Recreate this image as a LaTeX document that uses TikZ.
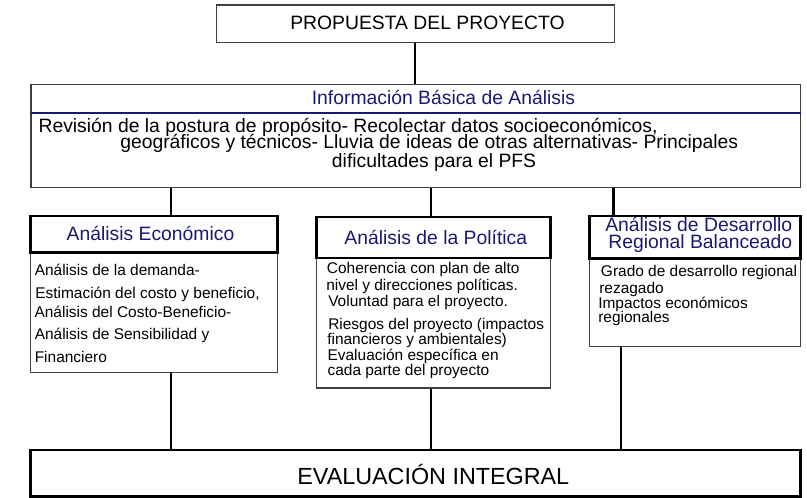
\documentclass[tikz,border=0pt]{standalone}
\usepackage{fontspec}
\setmainfont{Liberation Sans}
\usepackage{graphicx}
\usetikzlibrary{fit}
\definecolor{navy}{RGB}{25,25,115}
\begin{document}
\begin{tikzpicture}[x=0.75pt,y=-0.75pt,
  thinbox/.style={draw=black!75, line width=0.8pt, inner sep=0pt},
  thickbox/.style={draw=black, line width=2pt, inner sep=0pt},
  conn/.style={draw=black, line width=1.8pt},
  big/.style={font=\fontsize{14.5}{15}\selectfont, inner sep=0pt, anchor=base west},
  hdr/.style={font=\fontsize{14.5}{15}\selectfont, text=navy, inner sep=0pt, anchor=base},
  body/.style={font=\fontsize{11.6}{12}\selectfont, inner sep=0pt, anchor=base west},
]
\useasboundingbox (0,0) rectangle (807,498);

% boxes
\node[thinbox, fit={(216.7,5) (614.3,42.7)}] (top) {};
\node[thinbox, fit={(31,84.5) (800.5,187.7)}] (info) {};
\node[thinbox, fit={(30.7,252.7) (277.7,372.7)}] (econB) {};
\node[thickbox, fit={(30.7,216) (277.7,252.7)}] (econH) {};
\node[thinbox, fit={(316.7,258) (550.7,388)}] (polB) {};
\node[thickbox, fit={(316.7,217) (550.7,258)}] (polH) {};
\node[thinbox, fit={(589.3,258.3) (800.7,346.7)}] (desB) {};
\node[thickbox, fit={(589.3,216) (800.7,258.3)}] (desH) {};
\node[thickbox, fit={(30.7,450) (800.5,496.5)}] (final) {};

% divider in info box
\coordinate (dl) at (31,113);
\coordinate (dr) at (800.5,113);
\draw[navy, line width=1.3pt] (dl) -- (dr);

% connectors
\draw[conn] (415,0 |- top.south) -- (415,0 |- info.north);
\draw[conn] (170.7,0 |- info.south) -- (170.7,0 |- econH.north);
\draw[conn] (431,0 |- info.south) -- (431,0 |- polH.north);
\draw[conn] (613.3,0 |- info.south) -- (613.3,0 |- desH.north);
\draw[conn] (170.7,0 |- econB.south) -- (170.7,0 |- final.north);
\draw[conn] (431,0 |- polB.south) -- (431,0 |- final.north);
\draw[conn] (621,0 |- desB.south) -- (621,0 |- final.north);

% texts
\node[big] (ttop) at (290,30) {PROPUESTA DEL PROYECTO};
\node[hdr] (tinfo) at (443.5,105) {Información Básica de Análisis};
\node[big] (i1) at (38.3,132.5) {Revisión de la postura de propósito- Recolectar datos socioeconómicos,};
\node[big] (i2) at (120,148.5) {geográficos y técnicos- Lluvia de ideas de otras alternativas- Principales};
\node[big] (i3) at (331.7,167.5) {dificultades para el PFS};

\node[hdr] (tecon) at (150.5,240.7) {Análisis Económico};
\node[body] (e1) at (34.5,276) {Análisis de la demanda-};
\node[body] (e2) at (35,298.7) {Estimación del costo y beneficio,};
\node[body] (e3) at (34.3,317.3) {Análisis del Costo-Beneficio-};
\node[body] (e4) at (34.5,340) {Análisis de Sensibilidad y};
\node[body] (e5) at (34.5,362.7) {Financiero};

\node[hdr] (tpol) at (435.8,245) {Análisis de la Política};
\node[body] (p1) at (326.7,274) {Coherencia con plan de alto};
\node[body] (p2) at (326,291) {nivel y direcciones políticas.};
\node[body] (p3) at (328,307) {Voluntad para el proyecto.};
\node[body] (p4) at (328,330) {Riesgos del proyecto (impactos};
\node[body] (p5) at (327,345) {financieros y ambientales)};
\node[body] (p6) at (327.3,361) {Evaluación específica en};
\node[body] (p7) at (327.3,376) {cada parte del proyecto};

\node[hdr, anchor=base east] (tdes1) at (792.5,232) {Análisis de Desarrollo};
\node[hdr, anchor=base east] (tdes2) at (792.5,249) {Regional Balanceado};
\node[body] (d1) at (600.7,277) {Grado de desarrollo regional};
\node[body] (d2) at (599,293.5) {rezagado};
\node[body] (d3) at (598,309) {Impactos económicos};
\node[body] (d4) at (598,323) {regionales};

\node[font=\fontsize{17.5}{18}\selectfont, inner sep=0pt, anchor=base] (tfinal) at (433.3,484.3) {EVALUACIÓN INTEGRAL};
\end{tikzpicture}
\end{document}
